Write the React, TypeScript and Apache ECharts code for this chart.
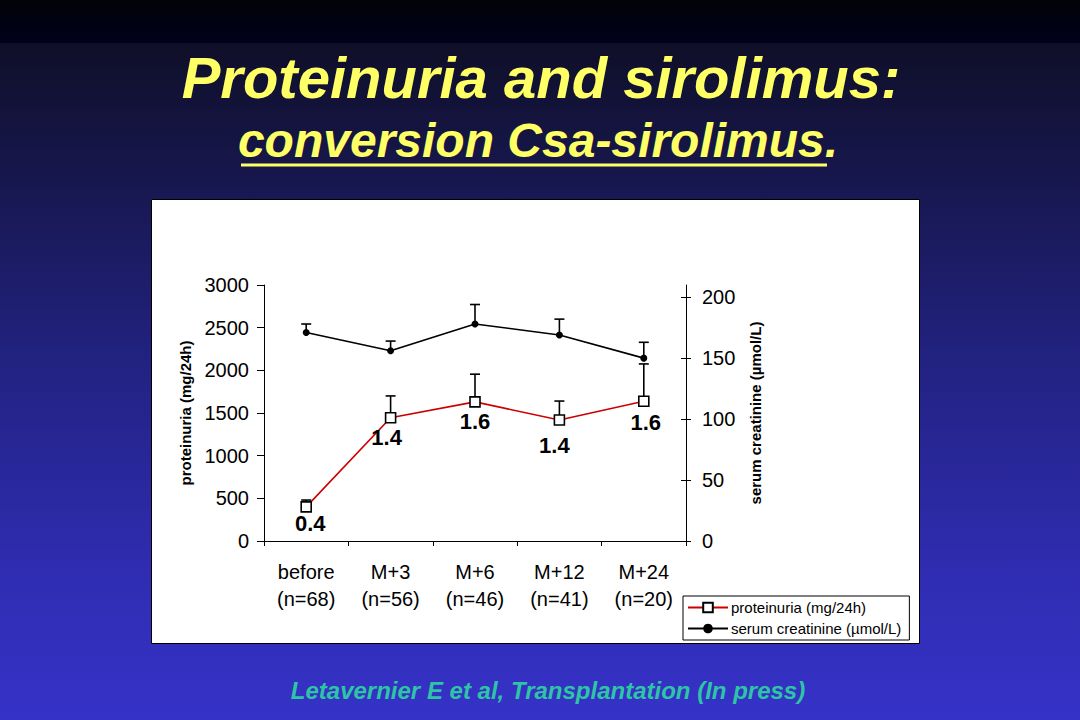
import React, { useEffect, useRef } from "react";
import * as echarts from "echarts";

const periods = ["before", "M+3", "M+6", "M+12", "M+24"];
const counts = ["n=68", "n=56", "n=46", "n=41", "n=20"];
const proteinuria = [400, 1445, 1630, 1418, 1637];
const proteinuriaUpper = [480, 1700, 1955, 1640, 2075];
const proteinuriaLabels = ["0.4", "1.4", "1.6", "1.4", "1.6"];
const creatinine = [171, 156, 178, 169, 150];
const creatinineUpper = [178, 164, 194, 182, 163];
const leftTicks = [0, 500, 1000, 1500, 2000, 2500, 3000];
const rightTicks = [0, 50, 100, 150, 200];

const FONT = "'Liberation Sans', Arial, Helvetica, sans-serif";
const labelOffsets = [[4, 17], [-4, 20], [0, 20], [-5, 26], [2, 21]];

function errorBars(values: number[], uppers: number[]) {
  return values.map((v, i) => [i, v, uppers[i]]);
}

function renderError(params: any, api: any) {
  const x = api.value(0);
  const v = api.value(1);
  const t = api.value(2);
  const p0 = api.coord([x, v]);
  const p1 = api.coord([x, t]);
  const style = { stroke: "#000", lineWidth: 1.6 };
  return {
    type: "group",
    children: [
      { type: "line", shape: { x1: p0[0], y1: p0[1], x2: p1[0], y2: p1[1] }, style },
      { type: "line", shape: { x1: p1[0] - 5, y1: p1[1], x2: p1[0] + 5, y2: p1[1] }, style },
    ],
  };
}

export default function App() {
  const ref = useRef<HTMLDivElement>(null);
  useEffect(() => {
    if (!ref.current) return;
    const chart = echarts.init(ref.current, undefined, { renderer: "svg" });
    const axisText = { color: "#000", fontSize: 20, fontFamily: FONT };
    const option: any = {
      animation: false,
      graphic: {
        elements: [
          {
            type: "rect",
            z: -20,
            shape: { x: 0, y: 0, width: 1080, height: 43 },
            style: {
              fill: new echarts.graphic.LinearGradient(0, 0, 0, 1, [
                { offset: 0, color: "#020207" },
                { offset: 1, color: "#00001c" },
              ]),
            },
          },
          {
            type: "rect",
            z: -20,
            shape: { x: 0, y: 43, width: 1080, height: 677 },
            style: {
              fill: new echarts.graphic.LinearGradient(0, 0, 0, 1, [
                { offset: 0, color: "#0f0f28" },
                { offset: 0.45, color: "#21217e" },
                { offset: 0.8, color: "#302db4" },
                { offset: 1, color: "#3532c8" },
              ]),
            },
          },
          {
            type: "rect",
            z: -19,
            shape: { x: 151.5, y: 199.5, width: 768, height: 444 },
            style: { fill: "#ffffff", stroke: "#000", lineWidth: 1 },
          },
          {
            type: "text",
            z: 10,
            x: 541,
            y: 77,
            style: {
              text: "Proteinuria and sirolimus:",
              fill: "#ffff66",
              font: `italic bold 58px ${FONT}`,
              textAlign: "center",
              textVerticalAlign: "middle",
              textShadowColor: "rgba(0,0,0,0.8)",
              textShadowOffsetX: 2,
              textShadowOffsetY: 2,
            },
          },
          {
            type: "text",
            z: 10,
            x: 538,
            y: 140,
            style: {
              text: "conversion Csa-sirolimus.",
              fill: "#ffff66",
              font: `italic bold 48px ${FONT}`,
              textAlign: "center",
              textVerticalAlign: "middle",
              textShadowColor: "rgba(0,0,0,0.8)",
              textShadowOffsetX: 2,
              textShadowOffsetY: 2,
            },
          },
          {
            type: "line",
            z: 10,
            shape: { x1: 241, y1: 165, x2: 827, y2: 165 },
            style: { stroke: "#ffff66", lineWidth: 3 },
          },
          {
            type: "text",
            z: 10,
            x: 548,
            y: 690,
            style: {
              text: "Letavernier E et al, Transplantation (In press)",
              fill: "#2ec4a6",
              font: `italic bold 24px ${FONT}`,
              textAlign: "center",
              textVerticalAlign: "middle",
            },
          },
        ],
      },
      grid: { left: 264, right: 394, top: 285, bottom: 179 },
      legend: {
        data: ["proteinuria (mg/24h)", "serum creatinine (µmol/L)"],
        orient: "vertical",
        left: 683,
        top: 596,
        width: 228,
        padding: [4, 8, 4, 4],
        itemGap: 6,
        itemWidth: 40,
        itemHeight: 12,
        backgroundColor: "#fff",
        borderColor: "#000",
        borderWidth: 1,
        borderRadius: 0,
        textStyle: { color: "#000", fontSize: 15, fontFamily: FONT, padding: [0, 0, 0, -2] },
      },
      xAxis: {
        type: "category",
        data: periods.map((p, i) => `${p}\n(${counts[i]})`),
        boundaryGap: true,
        axisLine: { lineStyle: { color: "#000", width: 1 } },
        axisTick: { show: true, length: 5, lineStyle: { color: "#000" } },
        axisLabel: { ...axisText, lineHeight: 27, margin: 17, interval: 0 },
        splitLine: { show: false },
      },
      yAxis: [
        {
          type: "value",
          position: "left",
          min: 0,
          max: 3000,
          interval: 500,
          name: "proteinuria (mg/24h)",
          nameLocation: "middle",
          nameRotate: 90,
          nameGap: 71,
          nameTextStyle: { color: "#000", fontSize: 15, fontWeight: "bold", fontFamily: FONT },
          axisLine: { show: true, lineStyle: { color: "#000", width: 1 } },
          axisTick: { show: true, length: 7, lineStyle: { color: "#000" }, customValues: leftTicks },
          axisLabel: {
            ...axisText,
            margin: 15,
            customValues: leftTicks,
            formatter: (v: number) => String(v),
          },
          splitLine: { show: false },
        },
        {
          type: "value",
          position: "right",
          min: 0,
          max: 210,
          name: "serum creatinine (µmol/L)",
          nameLocation: "middle",
          nameRotate: 90,
          nameGap: 62,
          nameTextStyle: { color: "#000", fontSize: 15, fontWeight: "bold", fontFamily: FONT },
          axisLine: { show: true, lineStyle: { color: "#000", width: 1 } },
          axisTick: { show: true, length: 5, lineStyle: { color: "#000" }, customValues: rightTicks },
          axisLabel: {
            ...axisText,
            margin: 16,
            customValues: rightTicks,
            formatter: (v: number) => String(v),
          },
          splitLine: { show: false },
        },
        {
          type: "value",
          position: "right",
          min: 0,
          max: 210,
          axisLine: { show: false },
          axisTick: { show: true, inside: true, length: 5, lineStyle: { color: "#000" }, customValues: rightTicks },
          axisLabel: { show: false },
          splitLine: { show: false },
        },
      ],
      series: [
        {
          type: "custom",
          name: "proteinuria error",
          yAxisIndex: 0,
          z: 1,
          renderItem: renderError,
          encode: { x: 0, y: [1, 2] },
          data: errorBars(proteinuria, proteinuriaUpper),
        },
        {
          type: "custom",
          name: "creatinine error",
          yAxisIndex: 1,
          z: 1,
          renderItem: renderError,
          encode: { x: 0, y: [1, 2] },
          data: errorBars(creatinine, creatinineUpper),
        },
        {
          type: "line",
          name: "proteinuria (mg/24h)",
          yAxisIndex: 0,
          z: 3,
          symbol: "rect",
          symbolSize: 10,
          lineStyle: { color: "#cc0000", width: 1.6 },
          itemStyle: { color: "#ffffff", borderColor: "#000", borderWidth: 1.6 },
          label: {
            show: true,
            position: "inside",
            formatter: (p: any) => proteinuriaLabels[p.dataIndex],
            color: "#000",
            fontSize: 22,
            fontWeight: "bold",
            fontFamily: FONT,
          },
          data: proteinuria.map((v, i) => ({ value: v, label: { offset: labelOffsets[i] } })),
        },
        {
          type: "line",
          name: "serum creatinine (µmol/L)",
          yAxisIndex: 1,
          z: 3,
          symbol: "circle",
          symbolSize: 7,
          lineStyle: { color: "#000", width: 1.6 },
          itemStyle: { color: "#000" },
          data: creatinine,
        },
      ],
    };
    chart.setOption(option);
    return () => chart.dispose();
  }, []);
  return (
    <div
      ref={ref}
      style={{ position: "absolute", left: 0, top: 0, width: 1080, height: 720 }}
    />
  );
}
